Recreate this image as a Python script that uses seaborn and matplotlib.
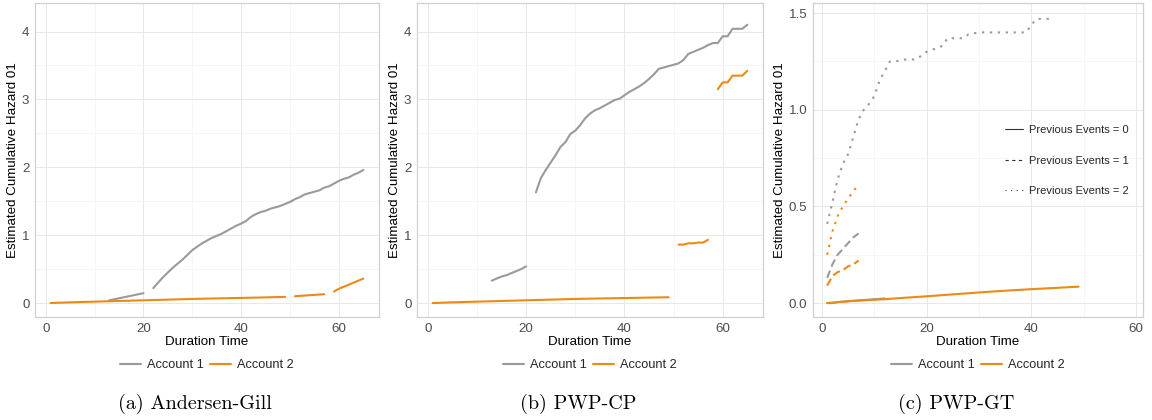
import matplotlib
matplotlib.use("Agg")
import matplotlib.pyplot as plt
from matplotlib.lines import Line2D
from matplotlib.ticker import MultipleLocator, FormatStrFormatter
import pandas as pd
import seaborn as sns

# ---------------- (a) Andersen-Gill ----------------
ag_acc1_seg1_t = [13, 14, 15, 16, 17, 18, 19, 20]
ag_acc1_seg1_h = [0.04, 0.055, 0.07, 0.085, 0.10, 0.115, 0.13, 0.145]
ag_acc1_seg2_t = list(range(22, 66))
ag_acc1_seg2_h = [0.22, 0.30, 0.38, 0.45, 0.52, 0.58, 0.64, 0.71, 0.78, 0.83,
                  0.88, 0.92, 0.96, 0.99, 1.02, 1.06, 1.10, 1.14, 1.17, 1.21,
                  1.27, 1.31, 1.34, 1.36, 1.39, 1.41, 1.43, 1.46, 1.49, 1.53,
                  1.56, 1.60, 1.62, 1.64, 1.66, 1.70, 1.72, 1.76, 1.80, 1.83,
                  1.85, 1.89, 1.92, 1.96]
ag_acc2_seg1_t = [1, 5, 10, 15, 20, 25, 30, 35, 40, 45, 49]
ag_acc2_seg1_h = [0.0, 0.01, 0.02, 0.03, 0.04, 0.05, 0.06, 0.068, 0.075, 0.083, 0.09]
ag_acc2_seg2_t = [51, 53, 55, 57]
ag_acc2_seg2_h = [0.10, 0.11, 0.12, 0.13]
ag_acc2_seg3_t = [59, 60, 61, 62, 63, 64, 65]
ag_acc2_seg3_h = [0.17, 0.21, 0.24, 0.27, 0.30, 0.33, 0.36]

# ---------------- (b) PWP-CP ----------------
cp_acc1_seg1_t = [13, 14, 15, 16, 17, 18, 19, 20]
cp_acc1_seg1_h = [0.33, 0.36, 0.39, 0.41, 0.44, 0.47, 0.50, 0.54]
cp_acc1_seg2_t = list(range(22, 66))
cp_acc1_seg2_h = [1.63, 1.84, 1.96, 2.07, 2.18, 2.30, 2.37, 2.49, 2.54, 2.62,
                  2.72, 2.79, 2.84, 2.87, 2.91, 2.95, 2.99, 3.01, 3.06, 3.11,
                  3.15, 3.19, 3.24, 3.30, 3.37, 3.45, 3.47, 3.49, 3.51, 3.53,
                  3.58, 3.67, 3.70, 3.73, 3.76, 3.80, 3.83, 3.83, 3.93, 3.93,
                  4.04, 4.04, 4.04, 4.10]
cp_acc2_seg1_t = [1, 5, 10, 15, 20, 25, 30, 35, 40, 45, 49]
cp_acc2_seg1_h = [0.0, 0.01, 0.02, 0.03, 0.04, 0.05, 0.06, 0.067, 0.073, 0.08, 0.085]
cp_acc2_seg2_t = [51, 52, 53, 54, 55, 56, 57]
cp_acc2_seg2_h = [0.86, 0.86, 0.88, 0.88, 0.89, 0.89, 0.93]
cp_acc2_seg3_t = [59, 60, 61, 62, 63, 64, 65]
cp_acc2_seg3_h = [3.15, 3.25, 3.25, 3.35, 3.35, 3.35, 3.42]

# ---------------- (c) PWP-GT ----------------
gt_acc1_ev0_t = [1, 3, 6, 9, 12]
gt_acc1_ev0_h = [0.0, 0.005, 0.012, 0.018, 0.024]
gt_acc2_ev0_t = [1, 2, 3, 5, 8, 10, 12, 15, 20, 25, 30, 35, 40, 45, 49]
gt_acc2_ev0_h = [0.0, 0.0, 0.005, 0.009, 0.014, 0.017, 0.02, 0.026, 0.035,
                 0.045, 0.055, 0.064, 0.072, 0.079, 0.085]
gt_acc1_ev1_t = [1, 2, 3, 4, 5, 6, 7]
gt_acc1_ev1_h = [0.13, 0.20, 0.25, 0.28, 0.31, 0.34, 0.36]
gt_acc2_ev1_t = [1, 2, 3, 4, 5, 6, 7]
gt_acc2_ev1_h = [0.09, 0.14, 0.16, 0.17, 0.19, 0.20, 0.22]
gt_acc1_ev2_t = [1, 2, 3, 4, 5, 6, 7, 8, 9, 10, 11, 12, 13, 14, 16, 18, 19,
                 20, 22, 23, 24, 27, 28, 30, 39, 40, 41, 44]
gt_acc1_ev2_h = [0.41, 0.52, 0.64, 0.72, 0.77, 0.86, 0.95, 1.00, 1.03, 1.07,
                 1.15, 1.20, 1.25, 1.25, 1.26, 1.26, 1.28, 1.30, 1.32, 1.33,
                 1.37, 1.37, 1.39, 1.40, 1.40, 1.44, 1.47, 1.47]
gt_acc2_ev2_t = [1, 2, 3, 4, 5, 6, 7]
gt_acc2_ev2_h = [0.25, 0.37, 0.45, 0.50, 0.54, 0.58, 0.61]

accounts = ["Account 1", "Account 2"]
captions = ["(a) Andersen-Gill", "(b) PWP-CP", "(c) PWP-GT"]
event_labels = ["Previous Events = 0", "Previous Events = 1", "Previous Events = 2"]

PALETTE = {"Account 1": "#9a9a9a", "Account 2": "#ec8a14"}
LW = 1.5


def build(segments):
    rows = []
    for seg_id, (acc, ev, t, h) in enumerate(segments):
        for ti, hi in zip(t, h):
            rows.append({"time": ti, "hazard": hi, "account": acc,
                         "events": ev, "segment": seg_id})
    return pd.DataFrame(rows)


df_ag = build([
    ("Account 1", 0, ag_acc1_seg1_t, ag_acc1_seg1_h),
    ("Account 1", 0, ag_acc1_seg2_t, ag_acc1_seg2_h),
    ("Account 2", 0, ag_acc2_seg1_t, ag_acc2_seg1_h),
    ("Account 2", 0, ag_acc2_seg2_t, ag_acc2_seg2_h),
    ("Account 2", 0, ag_acc2_seg3_t, ag_acc2_seg3_h),
])
df_cp = build([
    ("Account 1", 0, cp_acc1_seg1_t, cp_acc1_seg1_h),
    ("Account 1", 0, cp_acc1_seg2_t, cp_acc1_seg2_h),
    ("Account 2", 0, cp_acc2_seg1_t, cp_acc2_seg1_h),
    ("Account 2", 0, cp_acc2_seg2_t, cp_acc2_seg2_h),
    ("Account 2", 0, cp_acc2_seg3_t, cp_acc2_seg3_h),
])
df_gt = build([
    ("Account 1", 0, gt_acc1_ev0_t, gt_acc1_ev0_h),
    ("Account 1", 1, gt_acc1_ev1_t, gt_acc1_ev1_h),
    ("Account 1", 2, gt_acc1_ev2_t, gt_acc1_ev2_h),
    ("Account 2", 0, gt_acc2_ev0_t, gt_acc2_ev0_h),
    ("Account 2", 1, gt_acc2_ev1_t, gt_acc2_ev1_h),
    ("Account 2", 2, gt_acc2_ev2_t, gt_acc2_ev2_h),
])

sns.set_theme(style="whitegrid")
plt.rcParams.update({
    "font.family": ["Liberation Sans", "DejaVu Sans"],
    "axes.edgecolor": "#d0d0d0",
    "axes.linewidth": 0.9,
    "grid.color": "#e8e8e8",
    "grid.linewidth": 0.7,
    "xtick.color": "#c0c0c0",
    "ytick.color": "#c0c0c0",
    "xtick.labelcolor": "#4d4d4d",
    "ytick.labelcolor": "#4d4d4d",
    "xtick.labelsize": 9.6,
    "ytick.labelsize": 9.6,
    "axes.labelsize": 9.6,
    "axes.labelcolor": "black",
})

fig = plt.figure(figsize=(11.52, 4.2), dpi=100)
W, H = 1152, 420
boxes = [(35, 379), (417, 763), (813, 1143)]
top_px, bot_px = 3, 317
axes = [fig.add_axes([l / W, 1 - bot_px / H, (r - l) / W, (bot_px - top_px) / H])
        for l, r in boxes]

DASHES = {0: "", 1: (3.8, 2.0), 2: (1.1, 2.7)}

for ax, df in zip(axes[:2], [df_ag, df_cp]):
    sns.lineplot(data=df, x="time", y="hazard", hue="account", hue_order=accounts,
                 units="segment", estimator=None, sort=False, palette=PALETTE,
                 lw=LW, legend=False, ax=ax)

sns.lineplot(data=df_gt, x="time", y="hazard", hue="account", hue_order=accounts,
             style="events", style_order=[0, 1, 2], dashes=DASHES,
             units="segment", estimator=None, sort=False, palette=PALETTE,
             lw=LW, legend=False, ax=axes[2])

for ax in axes[:2]:
    ax.set_xlim(-2.2, 68.2)
    ax.set_ylim(-0.206, 4.42)
    ax.yaxis.set_major_locator(MultipleLocator(1))
    ax.yaxis.set_minor_locator(MultipleLocator(0.5))
axes[2].set_xlim(-1.7, 61.3)
axes[2].set_ylim(-0.072, 1.552)
axes[2].yaxis.set_major_locator(MultipleLocator(0.5))
axes[2].yaxis.set_minor_locator(MultipleLocator(0.25))
axes[2].yaxis.set_major_formatter(FormatStrFormatter("%.1f"))

for ax in axes:
    ax.xaxis.set_major_locator(MultipleLocator(20))
    ax.xaxis.set_minor_locator(MultipleLocator(10))
    ax.grid(which="major", color="#e8e8e8", lw=0.7)
    ax.grid(which="minor", color="#f3f3f3", lw=0.5)
    ax.tick_params(which="major", length=2.5, width=0.5, pad=1.5)
    ax.tick_params(which="minor", length=0)
    ax.set_xlabel("Duration Time", labelpad=1)
    ax.set_ylabel("Estimated Cumulative Hazard 01", labelpad=2)
    for s in ax.spines.values():
        s.set_color("#d0d0d0")
    handles = [Line2D([], [], color=PALETTE[a], lw=LW) for a in accounts]
    ax.legend(handles, accounts, loc="center",
              bbox_to_anchor=(0.5, (bot_px - 365) / (bot_px - top_px)),
              ncol=2, frameon=False, fontsize=9.2, handlelength=1.6,
              handletextpad=0.5, columnspacing=0.5, borderpad=0, borderaxespad=0)

cap_x = [195, 578, 956]
for cx, cap in zip(cap_x, captions):
    fig.text(cx / W, 1 - 404 / H, cap, ha="center", va="center",
             family=["cmr10", "DejaVu Serif"], fontsize=14.5, color="black")

# line-type key inside the PWP-GT panel
ev_handles = [Line2D([], [], color="#333333", lw=0.8, linestyle="-"),
              Line2D([], [], color="#333333", lw=0.8, linestyle=(0, (3, 3))),
              Line2D([], [], color="#333333", lw=0.8, linestyle=(0, (1, 4)))]
axes[2].add_artist(axes[2].get_legend())
axes[2].legend(ev_handles, event_labels, loc="upper left",
               bbox_to_anchor=((1005 - 813) / 330, (bot_px - 125) / (bot_px - top_px)),
               frameon=False, fontsize=8, handlelength=1.6, handletextpad=0.6,
               labelspacing=1.85, borderpad=0, borderaxespad=0)

fig.savefig("out.png", dpi=100)
